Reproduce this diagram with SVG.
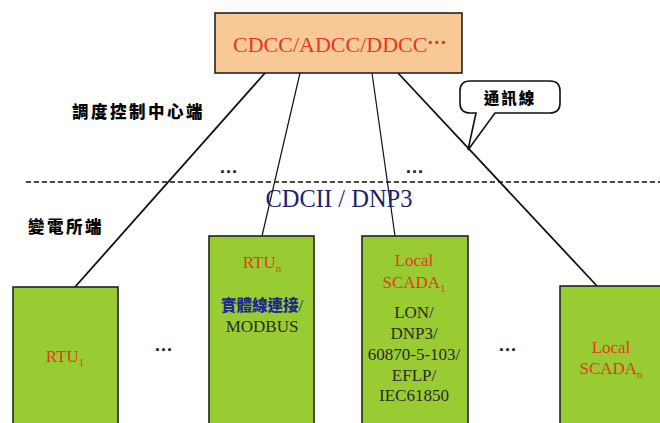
<svg xmlns="http://www.w3.org/2000/svg" width="660" height="423" viewBox="0 0 660 423">
<style>
.box{fill:#9C3;stroke:#222;stroke-width:1.6}
.serif{font-family:"Liberation Serif","Times New Roman",serif}
.red{fill:#E23A1E}
.dark{fill:#2a2a2a}
.cjk{font-family:"Noto Sans CJK TC","Noto Sans CJK SC",sans-serif;font-weight:900}
.dots{font-family:"Liberation Sans",Arial,sans-serif;font-weight:bold;font-size:19px;fill:#222}
.conn{stroke:#111;fill:none}
</style>
<rect width="660" height="423" fill="#fff"/>
<g id="connectors">
<line class="conn" x1="265" y1="73" x2="75" y2="287" stroke-width="1.8"/>
<line class="conn" x1="300" y1="73" x2="262" y2="236" stroke-width="1.2"/>
<line class="conn" x1="372" y1="73" x2="395" y2="236" stroke-width="1.2"/>
<line class="conn" x1="398" y1="73" x2="597" y2="286" stroke-width="1.8"/>
<line x1="26" y1="182" x2="660" y2="182" stroke="#111" stroke-width="1.3" stroke-dasharray="5,3"/>
</g>
<g id="top">
<rect x="215" y="13" width="247" height="60" fill="#F8C896" stroke="#222" stroke-width="1.6"/>
<text x="233" y="52" class="serif red" font-size="22">CDCC/ADCC/DDCC<tspan font-family="Liberation Sans,sans-serif" font-weight="bold" font-size="20" dy="-3">···</tspan></text>
</g>
<g id="labels">
<text x="72" y="118" class="cjk" font-size="16.5" letter-spacing="2.5">調度控制中心端</text>
<text x="28" y="233" class="cjk" font-size="16.5" letter-spacing="2.5">變電所端</text>
<text x="219" y="173" class="dots">…</text>
<text x="405" y="173" class="dots">…</text>
<text x="339" y="207" class="serif" font-size="24.5" fill="#1E1E6E" text-anchor="middle">CDCII / DNP3</text>
<text x="154" y="351" class="dots">…</text>
<text x="498" y="351" class="dots">…</text>
</g>
<g id="callout">
<path d="M470,81 H550 Q560,81 560,91 V103 Q560,113 550,113 H495 L468,150 L476,113 H470 Q460,113 460,103 V91 Q460,81 470,81 Z" fill="#fff" stroke="#111" stroke-width="1.6"/>
<text x="510" y="104" class="cjk" font-size="15.5" text-anchor="middle" letter-spacing="2">通訊線</text>
</g>
<g id="rtu1">
<rect class="box" x="13" y="287" width="105" height="140"/>
<text x="65" y="362" class="serif red" font-size="17" text-anchor="middle">RTU<tspan font-size="11" dy="4">1</tspan></text>
</g>
<g id="rtun">
<rect class="box" x="209" y="236" width="105" height="191"/>
<text x="262" y="268" class="serif red" font-size="17" text-anchor="middle">RTU<tspan font-size="11" dy="4">n</tspan></text>
<text x="262" y="311" font-size="15.5" text-anchor="middle"><tspan class="cjk" fill="#1E2A8C">實體線連接</tspan><tspan class="serif" fill="#1E2A8C" font-size="17">/</tspan></text>
<text x="262" y="332" class="serif dark" font-size="17" text-anchor="middle">MODBUS</text>
</g>
<g id="scada1">
<rect class="box" x="362" y="236" width="106" height="191"/>
<text x="414" y="266" class="serif red" font-size="17" text-anchor="middle">Local</text>
<text x="414" y="288" class="serif red" font-size="17" text-anchor="middle">SCADA<tspan font-size="11" dy="4">1</tspan></text>
<g class="serif dark" font-size="17" text-anchor="middle">
<text x="414" y="318">LON/</text>
<text x="414" y="339">DNP3/</text>
<text x="414" y="360">60870-5-103/</text>
<text x="414" y="381">EFLP/</text>
<text x="414" y="401">IEC61850</text>
</g>
</g>
<g id="scadan">
<rect class="box" x="560" y="286" width="104" height="141"/>
<text x="611" y="353" class="serif red" font-size="17" text-anchor="middle">Local</text>
<text x="611" y="374" class="serif red" font-size="17" text-anchor="middle">SCADA<tspan font-size="11" dy="4">n</tspan></text>
</g>
</svg>
